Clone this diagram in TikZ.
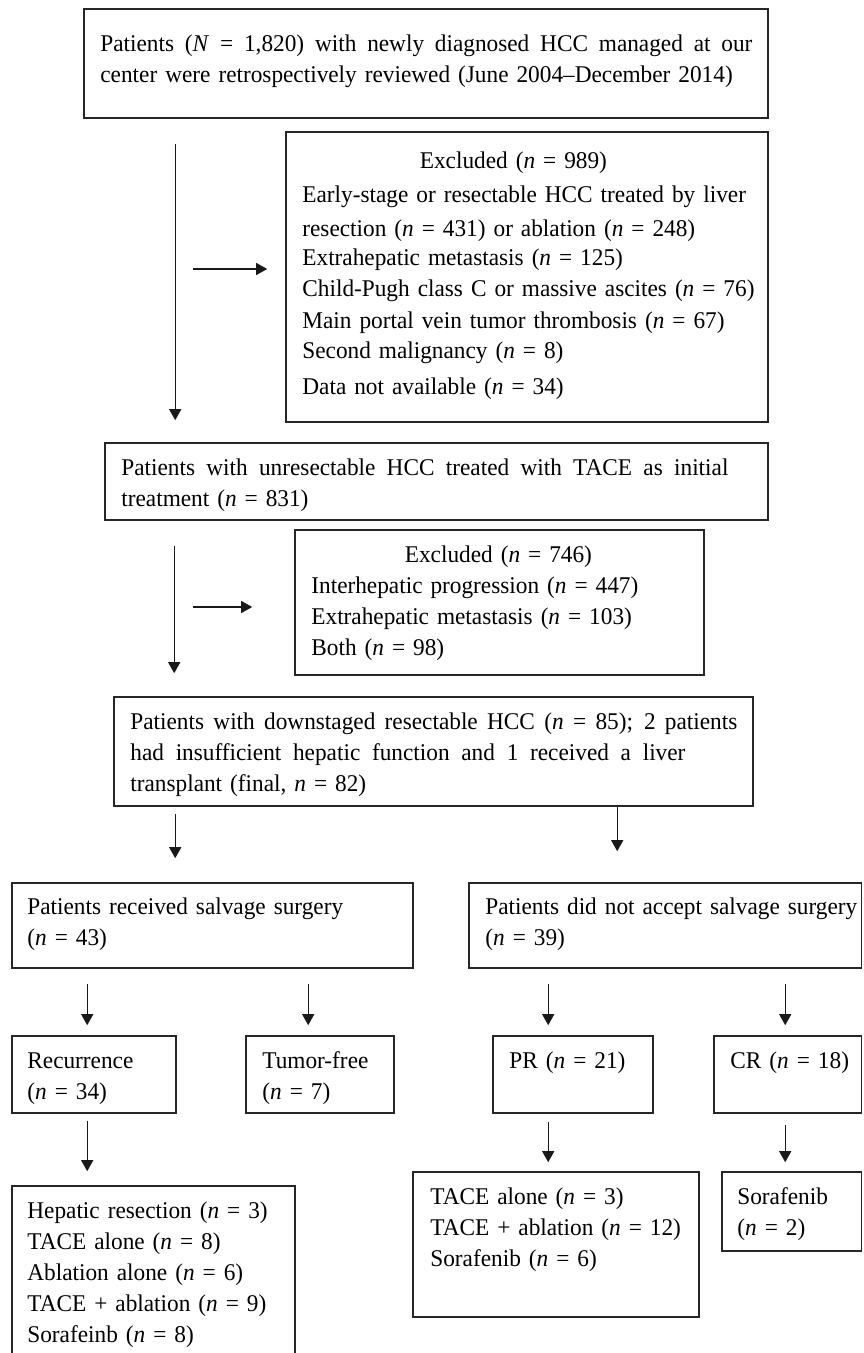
\documentclass[tikz,border=0pt]{standalone}
\usepackage{fontspec}
\setmainfont[FakeStretch=0.97, WordSpace=0.9]{Liberation Serif}
\usetikzlibrary{arrows.meta,calc,fit}
\newcommand{\jline}[2]{\makebox[#1][s]{\spaceskip=0.25em plus 1fil\relax #2}}
\begin{document}
\begin{tikzpicture}[x=0.5pt,y=-0.5pt, >={Triangle[length=5.5pt,width=6pt]},
    every node/.style={font=\fontsize{12}{15.5}\selectfont}]
      \tikzset{box/.style={draw=black!85, line width=0.8pt, inner sep=0pt},
               txt/.style={anchor=base west, align=left, inner sep=0pt},
               arr/.style={->, line width=0.55pt, black!90}}
      \useasboundingbox (0,0) rectangle (863,1353);
%% Boxes
      \node[box, fit={(84,9) (768,118)}] (b1) {};
      \node[box, fit={(286,132) (768,422)}] (b2) {};
      \node[box, fit={(105,443) (768,520)}] (b3) {};
      \node[box, fit={(295,530) (704,675)}] (b4) {};
      \node[box, fit={(114,697) (753,806)}] (b5) {};
      \node[box, fit={(12,883) (413,968)}] (b6) {};
      \node[box, fit={(469,883) (861.5,968)}] (b7) {};
      \node[box, fit={(12,1036) (176,1113)}] (rec) {};
      \node[box, fit={(246,1036) (394,1113)}] (tfree) {};
      \node[box, fit={(493,1036) (653,1113)}] (pr) {};
      \node[box, fit={(714,1036) (861.5,1113)}] (cr) {};
      \node[box, fit={(12,1186) (295,1360)}] (trt1) {};
      \node[box, fit={(413,1172) (699,1317)}] (trt2) {};
      \node[box, fit={(722,1172) (861.5,1251)}] (trt3) {};
%% Texts
      \node[txt, text width=330pt] (b1t) at (100,52)
        {\jline{326pt}{Patients (\textit{N} = 1,820) with newly diagnosed HCC managed at our}\\
         center were retrospectively reviewed (June 2004–December 2014)};
      \node[txt, text width=230pt] (b2t) at (302,169)
        {\makebox[211pt]{Excluded (\textit{n} = 989)}\\[1.5pt]
         Early-stage or resectable HCC treated by liver\\[1.5pt]
         resection (\textit{n} = 431) or ablation (\textit{n} = 248)\\[-1pt]
         Extrahepatic metastasis (\textit{n} = 125)\\
         Child-Pugh class C or massive ascites (\textit{n} = 76)\\[0.5pt]
         Main portal vein tumor thrombosis (\textit{n} = 67)\\[-0.5pt]
         Second malignancy (\textit{n} = 8)\\[2.5pt]
         Data not available (\textit{n} = 34)};
      \node[txt, text width=315pt] (b3t) at (121,475)
        {\jline{303.5pt}{Patients with unresectable HCC treated with TACE as initial}\\
         treatment (\textit{n} = 831)};
      \node[txt, text width=190pt] (b4t) at (311,562)
        {\makebox[187pt]{Excluded (\textit{n} = 746)}\\
         Interhepatic progression (\textit{n} = 447)\\
         Extrahepatic metastasis (\textit{n} = 103)\\
         Both (\textit{n} = 98)};
      \node[txt, text width=310pt] (b5t) at (130,729)
        {\jline{303.5pt}{Patients with downstaged resectable HCC (\textit{n} = 85); 2 patients}\\
         \jline{277.5pt}{had insufficient hepatic function and 1 received a liver}\\
         transplant (final, \textit{n} = 82)};
      \node[txt, text width=185pt] (b6t) at (27,914) {Patients received salvage surgery\\(\textit{n} = 43)};
      \node[txt, text width=189pt] (b7t) at (485,914) {Patients did not accept salvage surgery\\(\textit{n} = 39)};
      \node[txt, text width=70pt] (rect) at (27,1068) {Recurrence\\(\textit{n} = 34)};
      \node[txt, text width=64pt] (tfreet) at (262,1068) {Tumor-free\\(\textit{n} = 7)};
      \node[txt, text width=70pt] (prt) at (509,1068) {PR (\textit{n} = 21)};
      \node[txt, text width=64pt] (crt) at (730,1068) {CR (\textit{n} = 18)};
      \node[txt, text width=130pt] (trt1t) at (27,1218)
        {Hepatic resection (\textit{n} = 3)\\
         TACE alone (\textit{n} = 8)\\
         Ablation alone (\textit{n} = 6)\\
         TACE + ablation (\textit{n} = 9)\\
         Sorafeinb (\textit{n} = 8)};
      \node[txt, text width=130pt] (trt2t) at (430,1204)
        {TACE alone (\textit{n} = 3)\\
         TACE + ablation (\textit{n} = 12)\\
         Sorafenib (\textit{n} = 6)};
      \node[txt, text width=60pt] (trt3t) at (737,1204) {Sorafenib\\(\textit{n} = 2)};
%% Arrows
      \coordinate (h1) at (193,269);
      \coordinate (h2) at (193,607);
      \draw[arr, shorten <=12.5pt, shorten >=11pt] ($(b1.south west)+(92,0)$) -- ($(b3.north west)+(71,0)$);
      \draw[arr, shorten >=9pt] (h1) -- (h1 -| b2.west);
      \draw[arr, shorten <=12.5pt, shorten >=11.5pt] ($(b3.south west)+(70,0)$) -- ($(b5.north west)+(61,0)$);
      \draw[arr, shorten >=21pt] (h2) -- (h2 -| b4.west);
      \draw[arr, shorten <=3.5pt, shorten >=12pt] ($(b5.south west)+(62,0)$) -- ($(b6.north west)+(164,0)$);
      \draw[arr, shorten >=15.5pt] ($(b5.south west)+(504,0)$) -- ($(b7.north west)+(149,0)$);
      \draw[arr, shorten <=7.5pt, shorten >=5pt] ($(b6.south west)+(76,0)$) -- ($(rec.north west)+(76,0)$);
      \draw[arr, shorten <=7.5pt, shorten >=5pt] ($(b6.south west)+(297,0)$) -- ($(tfree.north west)+(63,0)$);
      \draw[arr, shorten <=7.5pt, shorten >=5pt] ($(b7.south west)+(80,0)$) -- ($(pr.north west)+(56,0)$);
      \draw[arr, shorten <=7.5pt, shorten >=5pt] ($(b7.south west)+(317,0)$) -- ($(cr.north west)+(72,0)$);
      \draw[arr, shorten <=3.5pt, shorten >=7pt] ($(rec.south west)+(76,0)$) -- ($(trt1.north west)+(76,0)$);
      \draw[arr, shorten <=4pt, shorten >=4.5pt] ($(pr.south west)+(56,0)$) -- ($(trt2.north west)+(136,0)$);
      \draw[arr, shorten <=5.5pt, shorten >=4.5pt] ($(cr.south west)+(72,0)$) -- ($(trt3.north west)+(64,0)$);
\end{tikzpicture}
\end{document}
